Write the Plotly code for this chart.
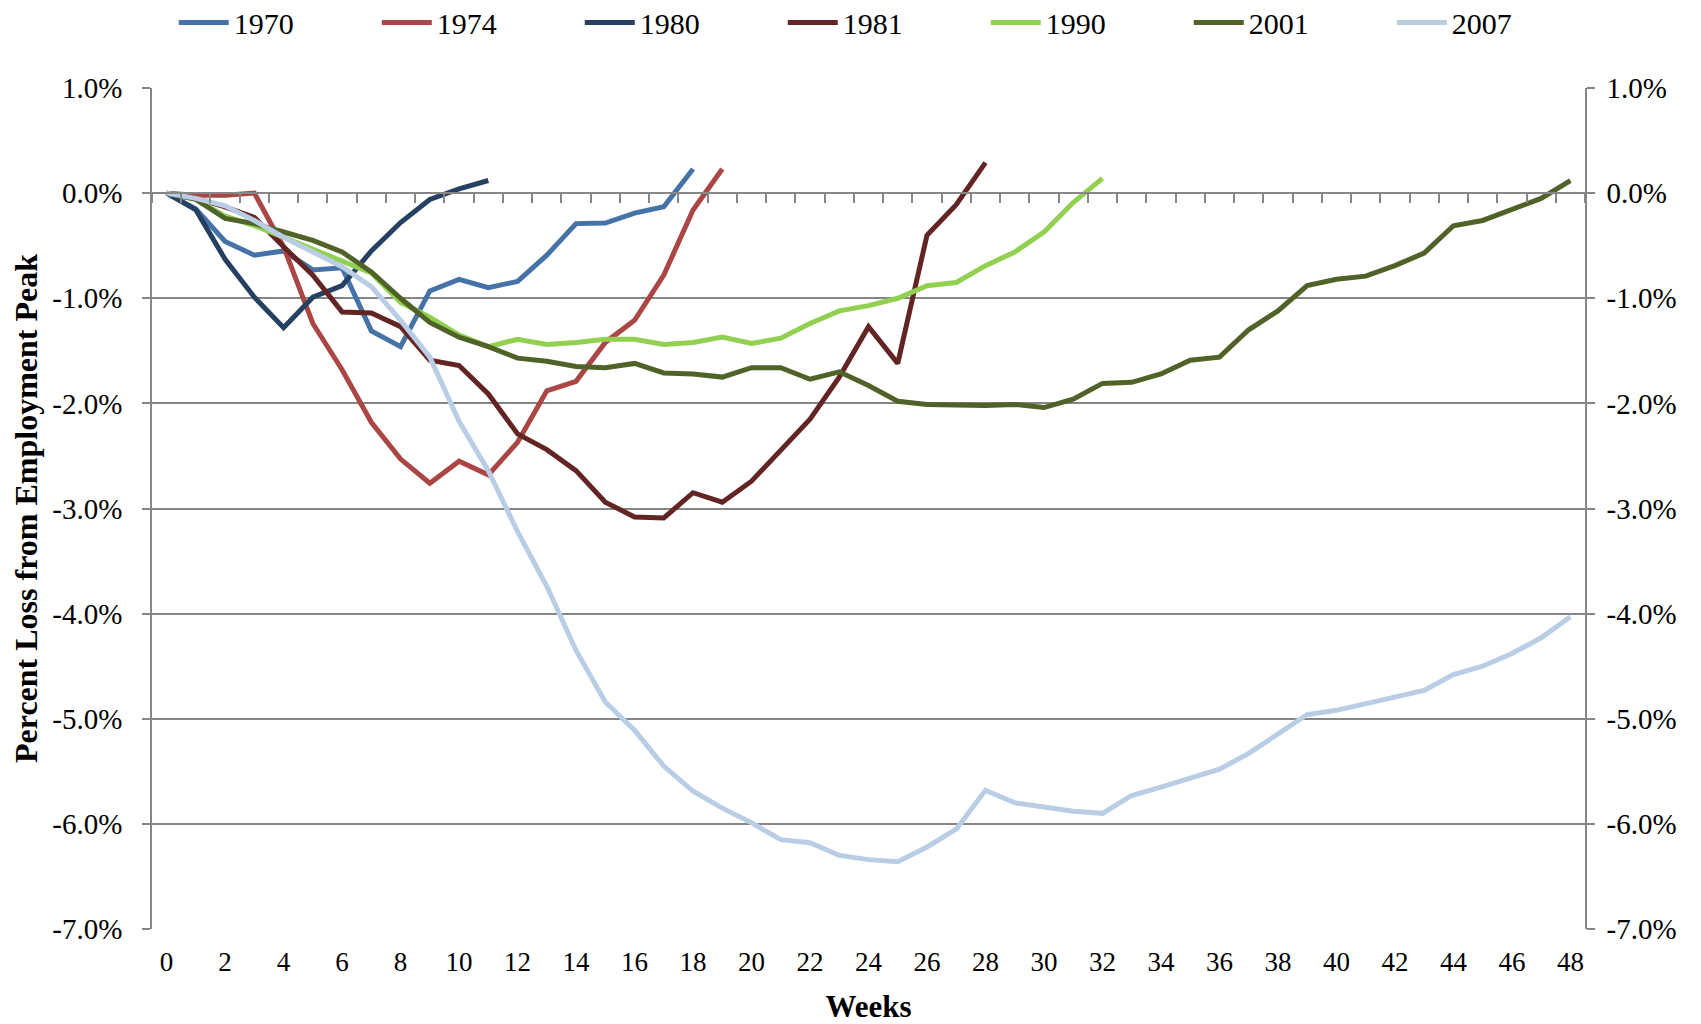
import plotly.graph_objects as go

# percent loss from employment peak, by recession start year
LOSS_1970 = [0, -0.15, -0.46, -0.59, -0.55, -0.73, -0.71, -1.31, -1.46, -0.93, -0.82, -0.90, -0.84,
             -0.59, -0.29, -0.285, -0.19, -0.13, 0.23]
LOSS_1974 = [0, -0.02, -0.02, 0.0, -0.51, -1.24, -1.68, -2.18, -2.53, -2.76, -2.55, -2.68, -2.37,
             -1.88, -1.79, -1.42, -1.21, -0.78, -0.16, 0.23]
LOSS_1980 = [0, -0.16, -0.63, -0.99, -1.28, -0.99, -0.88, -0.55, -0.28, -0.06, 0.04, 0.12]
LOSS_1981 = [0, -0.05, -0.13, -0.23, -0.51, -0.78, -1.13, -1.14, -1.27, -1.59, -1.64, -1.91, -2.29,
             -2.44, -2.64, -2.94, -3.08, -3.09, -2.85, -2.94, -2.74, -2.44, -2.15, -1.75, -1.27,
             -1.62, -0.40, -0.11, 0.29]
LOSS_1990 = [0, -0.06, -0.22, -0.31, -0.42, -0.53, -0.65, -0.76, -1.04, -1.18, -1.35, -1.46, -1.39,
             -1.44, -1.42, -1.39, -1.39, -1.44, -1.42, -1.37, -1.43, -1.38, -1.24, -1.12, -1.07,
             -1.00, -0.88, -0.85, -0.69, -0.56, -0.37, -0.09, 0.14]
LOSS_2001 = [0, -0.06, -0.24, -0.29, -0.37, -0.45, -0.56, -0.75, -1.00, -1.23, -1.37, -1.46, -1.57,
             -1.60, -1.65, -1.66, -1.62, -1.71, -1.72, -1.75, -1.66, -1.66, -1.77, -1.70, -1.83,
             -1.98, -2.01, -2.02, -2.02, -2.01, -2.04, -1.96, -1.81, -1.80, -1.72, -1.59, -1.56,
             -1.30, -1.12, -0.88, -0.82, -0.79, -0.69, -0.57, -0.31, -0.26, -0.16, -0.05, 0.12]
LOSS_2007 = [0, -0.05, -0.12, -0.26, -0.42, -0.56, -0.70, -0.89, -1.21, -1.56, -2.17, -2.64, -3.22,
             -3.74, -4.35, -4.84, -5.11, -5.45, -5.69, -5.85, -5.99, -6.15, -6.18, -6.30, -6.34,
             -6.36, -6.22, -6.05, -5.68, -5.80, -5.84, -5.88, -5.90, -5.73, -5.65, -5.56, -5.48,
             -5.33, -5.15, -4.96, -4.92, -4.86, -4.79, -4.73, -4.58, -4.50, -4.38, -4.23, -4.03]

SERIES = [
    ('1970', LOSS_1970, '#4572A7'),
    ('1974', LOSS_1974, '#AA4643'),
    ('1980', LOSS_1980, '#254061'),
    ('1981', LOSS_1981, '#632523'),
    ('1990', LOSS_1990, '#92D050'),
    ('2001', LOSS_2001, '#4F6228'),
    ('2007', LOSS_2007, '#B9CDE5'),
]

Y_TICKS = [1, 0, -1, -2, -3, -4, -5, -6, -7]
Y_LABELS = ['1.0%', '0.0%', '-1.0%', '-2.0%', '-3.0%', '-4.0%', '-5.0%', '-6.0%', '-7.0%']
X_TICKS = list(range(0, 49, 2))

GRID = '#868686'
FONT = 'Liberation Serif'

fig = go.Figure()

for name, vals, colour in SERIES:
    fig.add_trace(go.Scatter(x=list(range(len(vals))), y=vals, mode='lines', name=name,
                             line=dict(color=colour, width=5)))

# helper traces so the mirrored axes get drawn
fig.add_trace(go.Scatter(x=[None], y=[None], xaxis='x2', yaxis='y', showlegend=False, hoverinfo='skip'))
fig.add_trace(go.Scatter(x=[None], y=[None], xaxis='x', yaxis='y2', showlegend=False, hoverinfo='skip'))

# page body adds an 8px offset, so the figure is 8px smaller than the window
fig.update_layout(
    width=1693, height=1016,
    margin=dict(l=144, r=116, t=80, b=95, autoexpand=False),
    plot_bgcolor='white', paper_bgcolor='white',
    font=dict(family=FONT, size=27, color='black'),
    showlegend=True,
    legend=dict(orientation='h', x=0.511, xanchor='center', y=1.078, yanchor='middle',
                itemwidth=50, entrywidth=138, entrywidthmode='pixels',
                font=dict(family=FONT, size=30)),
    xaxis=dict(range=[-0.5, 48.5], tickvals=X_TICKS, showgrid=False, zeroline=False,
               showline=False, ticks='', ticklabelstandoff=14,
               title=dict(text='<b>Weeks</b>', standoff=20, font=dict(size=31))),
    xaxis2=dict(overlaying='x', anchor='free', position=0.875, range=[-0.5, 48.5],
                tickvals=[i + 0.5 for i in range(-1, 49)], showticklabels=False,
                ticks='outside', ticklen=9, tickwidth=1.5, tickcolor=GRID,
                showline=True, linecolor=GRID, linewidth=1.5, showgrid=False, zeroline=False),
    yaxis=dict(range=[-7, 1], tickvals=Y_TICKS, ticktext=Y_LABELS, tickfont=dict(size=29),
               showgrid=True, gridcolor=GRID, gridwidth=1.5, zeroline=False,
               showline=True, linecolor=GRID, linewidth=1.5,
               ticks='outside', ticklen=8, tickwidth=1.5, tickcolor=GRID, ticklabelstandoff=14,
               title=dict(text='<b>Percent Loss from Employment Peak</b>', standoff=24,
                          font=dict(size=32))),
    yaxis2=dict(overlaying='y', side='right', anchor='x', range=[-7, 1], tickvals=Y_TICKS,
                ticktext=Y_LABELS, tickfont=dict(size=29), showgrid=False, zeroline=False,
                showline=True, linecolor=GRID, linewidth=1.5,
                ticks='outside', ticklen=8, tickwidth=1.5, tickcolor=GRID, ticklabelstandoff=6),
)

fig.write_html('out.html')
